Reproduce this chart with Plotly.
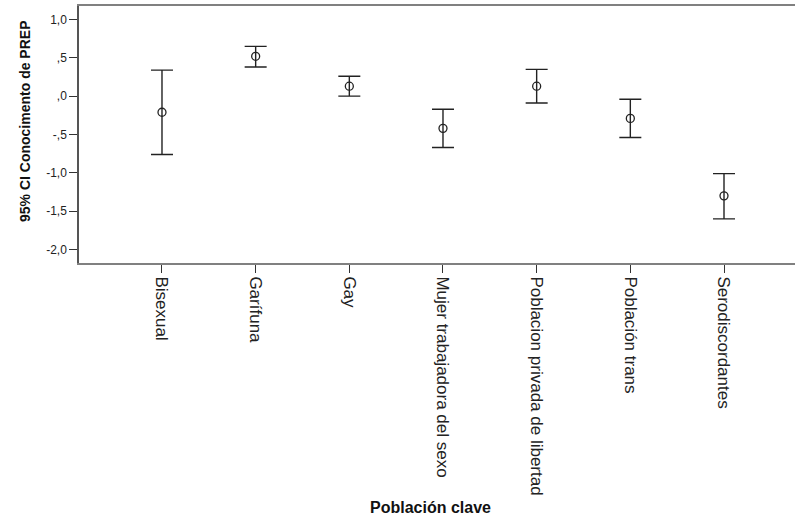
import plotly.graph_objects as go

categories = ["Bisexual", "Garífuna", "Gay", "Mujer trabajadora del sexo",
              "Poblacion privada de libertad", "Población trans", "Serodiscordantes"]
means = [-0.21, 0.52, 0.13, -0.42, 0.13, -0.29, -1.30]
lower = [-0.76, 0.38, 0.00, -0.67, -0.09, -0.54, -1.60]
upper = [0.34, 0.65, 0.26, -0.17, 0.35, -0.04, -1.01]
y_ticks = [1.0, 0.5, 0.0, -0.5, -1.0, -1.5, -2.0]
y_tick_text = ["1,0", ",5", ",0", "-,5", "-1,0", "-1,5", "-2,0"]

err_plus = [u - m for u, m in zip(upper, means)]
err_minus = [m - l for m, l in zip(means, lower)]

fig = go.Figure()
fig.add_trace(go.Scatter(
    x=list(range(len(categories))),
    y=means,
    mode="markers",
    marker=dict(symbol="circle-open", size=8, color="#222222", line=dict(width=1.3)),
    error_y=dict(type="data", symmetric=False, array=err_plus, arrayminus=err_minus,
                 width=11, thickness=1.4, color="#222222"),
    showlegend=False,
))

W, H = 795, 516
L, R, T, B = 79, 0, 6, 253
fig.update_layout(
    width=W, height=H,
    margin=dict(l=L, r=R, t=T, b=B, pad=0),
    plot_bgcolor="white", paper_bgcolor="white",
    font=dict(family="Liberation Sans, Arial, sans-serif", color="#222222"),
)
fig.update_xaxes(
    range=[-0.886, 6.758], automargin=False,
    tickmode="array", tickvals=list(range(len(categories))), ticktext=categories,
    tickangle=90, tickfont=dict(size=17, color="#222222"),
    ticks="outside", ticklen=8, tickcolor="#333333", tickwidth=1.3,
    showline=True, linecolor="#808080", linewidth=2, mirror=True,
    showgrid=False, zeroline=False,
)
fig.update_yaxes(
    range=[-2.176, 1.176], automargin=False,
    tickmode="array", tickvals=y_ticks, ticktext=y_tick_text,
    tickfont=dict(size=12, color="#222222"),
    ticks="outside", ticklen=8, tickcolor="#333333", tickwidth=1.3,
    showline=True, linecolor="#555555", linewidth=1.5, mirror=False,
    showgrid=False, zeroline=False,
)
plot_h = H - T - B
plot_w = W - L - R
fig.add_annotation(
    text="<b>95% CI Conocimento de PREP</b>", textangle=-90,
    xref="paper", yref="paper", x=(25 - L) / plot_w, y=(H - B - 122) / plot_h,
    xanchor="center", yanchor="middle", showarrow=False,
    font=dict(size=14, color="#111111"),
)
fig.add_annotation(
    text="<b>Población clave</b>",
    xref="paper", yref="paper", x=(430 - L) / plot_w, y=(H - B - 507) / plot_h,
    xanchor="center", yanchor="middle", showarrow=False,
    font=dict(size=16, color="#111111"),
)
fig.write_html("out.html", config={"displayModeBar": False},
               post_script="document.body.style.margin='0';document.body.style.overflow='hidden';")
